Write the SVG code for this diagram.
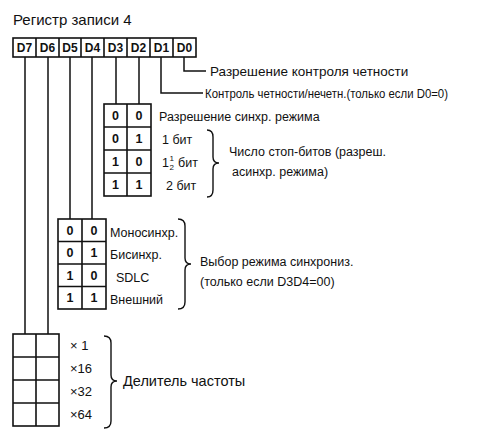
<svg xmlns="http://www.w3.org/2000/svg" width="500" height="439" viewBox="0 0 500 439">
<style>
text{font-family:"Liberation Sans","DejaVu Sans",sans-serif;fill:#111;font-size:12.5px}
.t{font-size:15px}
.d{font-size:12px;font-weight:bold;text-anchor:middle}
.c{font-size:12.5px;font-weight:bold;text-anchor:middle}
.s{font-size:8px}
.box{fill:none;stroke:#111;stroke-width:1.6}
.ln{fill:none;stroke:#111;stroke-width:1.5}
.br{fill:none;stroke:#111;stroke-width:1.4}
</style>
<rect width="500" height="439" fill="#fff"/>
<text class="t" x="13" y="25">Регистр записи 4</text>
<g id="register">
<rect class="box" x="13" y="38" width="183" height="19"/>
<path class="box" d="M36 38V57M59 38V57M81 38V57M104 38V57M127 38V57M150 38V57M173 38V57"/>
<text class="d" x="24.5" y="52">D7</text>
<text class="d" x="47.5" y="52">D6</text>
<text class="d" x="70" y="52">D5</text>
<text class="d" x="92.5" y="52">D4</text>
<text class="d" x="115.5" y="52">D3</text>
<text class="d" x="138.5" y="52">D2</text>
<text class="d" x="161.5" y="52">D1</text>
<text class="d" x="184.5" y="52">D0</text>
</g>
<g id="connectors">
<path class="ln" d="M184 57V71H206"/>
<path class="ln" d="M161 57V93H203"/>
<path class="ln" d="M116 57V104M139 57V104"/>
<path class="ln" d="M70 57V219M92 57V219"/>
<path class="ln" d="M25 57V334M48 57V334"/>
</g>
<g id="d0">
<text x="210" y="76" style="font-size:13.5px">Разрешение контроля четности</text>
</g>
<g id="d1">
<text x="205" y="98" style="font-size:13.5px" textLength="243" lengthAdjust="spacingAndGlyphs">Контроль четности/нечетн.(только если D0=0)</text>
</g>
<g id="table-d3d2">
<rect class="box" x="104" y="104" width="47" height="92"/>
<path class="box" d="M127 104V196M104 127H151M104 150H151M104 173H151"/>
<text class="c" x="115.5" y="120">0</text><text class="c" x="139" y="120">0</text>
<text class="c" x="115.5" y="143">0</text><text class="c" x="139" y="143">1</text>
<text class="c" x="115.5" y="166">1</text><text class="c" x="139" y="166">0</text>
<text class="c" x="115.5" y="189">1</text><text class="c" x="139" y="189">1</text>
<text x="159" y="121">Разрешение синхр. режима</text>
<text x="162" y="144">1 бит</text>
<text x="162" y="167">1</text>
<text class="s" x="169.5" y="161">1</text>
<text class="s" x="169.5" y="170">2</text>
<text x="178" y="167">бит</text>
<text x="166" y="190">2 бит</text>
<path class="br" d="M207 130Q213 130 213 137V157Q213 163 219 163Q213 163 213 169V190Q213 197 207 197"/>
<text x="229" y="156">Число стоп-битов (разреш.</text>
<text x="232" y="176">асинхр. режима)</text>
</g>
<g id="table-d5d4">
<rect class="box" x="58" y="219" width="48" height="90"/>
<path class="box" d="M82 219V309M58 241.5H106M58 264H106M58 286.5H106"/>
<text class="c" x="70" y="235">0</text><text class="c" x="94" y="235">0</text>
<text class="c" x="70" y="257">0</text><text class="c" x="94" y="257">1</text>
<text class="c" x="70" y="280">1</text><text class="c" x="94" y="280">0</text>
<text class="c" x="70" y="302">1</text><text class="c" x="94" y="302">1</text>
<text x="110" y="237">Моносинхр.</text>
<text x="110" y="259">Бисинхр.</text>
<text x="116" y="282">SDLC</text>
<text x="110" y="304">Внешний</text>
<path class="br" d="M178 219Q185 219 185 226V258Q185 264 191 264Q185 264 185 270V302Q185 309 178 309"/>
<text x="200" y="266">Выбор режима синхрониз.</text>
<text x="200" y="286">(только если D3D4=00)</text>
</g>
<g id="table-d7d6">
<rect class="box" x="13" y="334" width="46" height="92"/>
<path class="box" d="M36 334V426M13 357H59M13 380H59M13 403H59"/>
<text x="70" y="350" style="font-size:13px">× 1</text>
<text x="70" y="373" style="font-size:13px">×16</text>
<text x="70" y="396" style="font-size:13px">×32</text>
<text x="70" y="419" style="font-size:13px">×64</text>
<path class="br" d="M104 336Q111 336 111 343V375Q111 381 117 381Q111 381 111 387V421Q111 428 104 428"/>
<text x="123" y="386" style="font-size:14.5px">Делитель частоты</text>
</g>
</svg>
